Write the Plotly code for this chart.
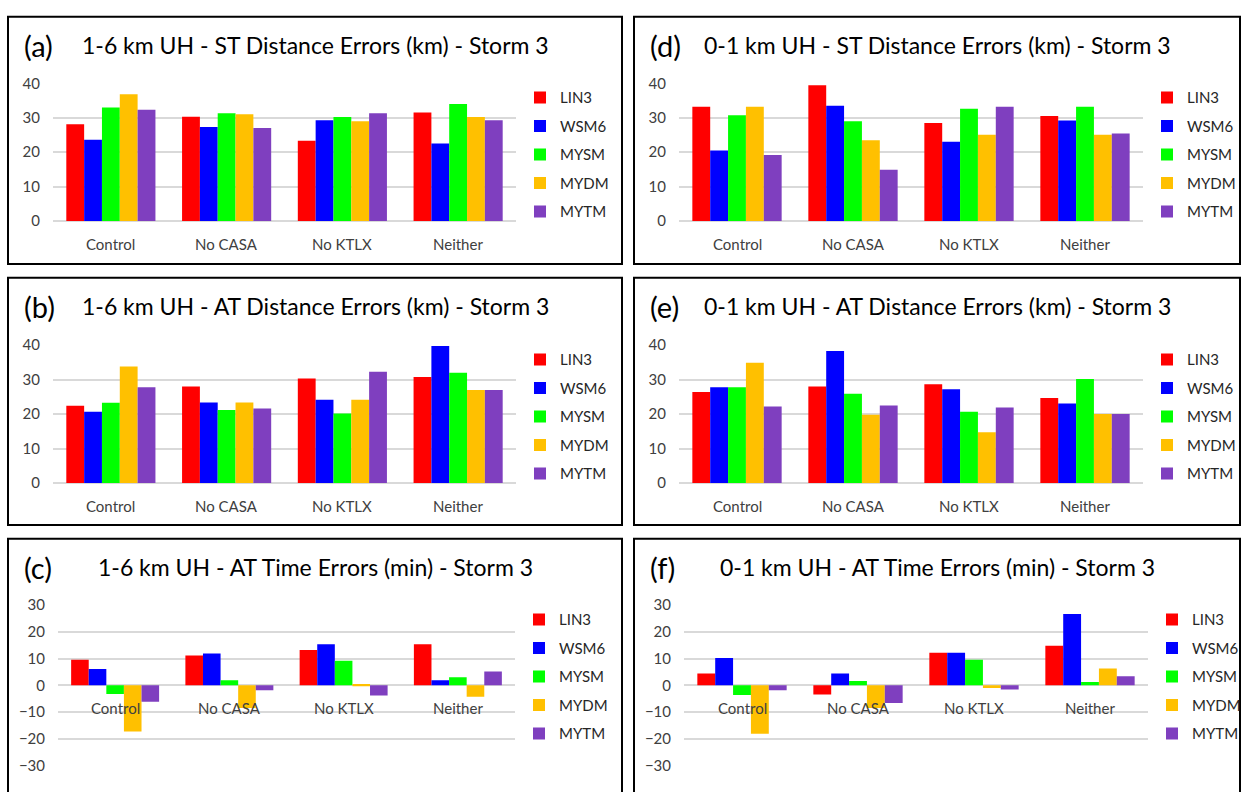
import plotly.graph_objects as go

W, H = 1246, 792

categories = ["Control", "No CASA", "No KTLX", "Neither"]
schemes = ["LIN3", "WSM6", "MYSM", "MYDM", "MYTM"]
colors = ["#FF0000", "#0000FF", "#00FF00", "#FFC000", "#7F3FBF"]

# Rows: LIN3, WSM6, MYSM, MYDM, MYTM; columns follow `categories`
st_dist_16 = [  # (a) 1-6 km UH, ST distance errors (km)
    [28.1, 30.3, 23.3, 31.5],
    [23.6, 27.3, 29.3, 22.5],
    [33.0, 31.3, 30.2, 34.0],
    [36.8, 31.0, 29.0, 30.2],
    [32.3, 27.0, 31.3, 29.3],
]
at_dist_16 = [  # (b) 1-6 km UH, AT distance errors (km)
    [22.4, 28.0, 30.3, 30.8],
    [20.7, 23.4, 24.2, 39.8],
    [23.3, 21.2, 20.2, 32.0],
    [33.8, 23.4, 24.2, 27.0],
    [27.8, 21.6, 32.3, 27.0],
]
at_time_16 = [  # (c) 1-6 km UH, AT time errors (min)
    [9.6, 11.2, 13.2, 15.4],
    [6.1, 11.9, 15.4, 1.9],
    [-3.3, 1.9, 9.2, 3.0],
    [-17.3, -8.5, 0.5, -4.3],
    [-6.2, -1.9, -3.8, 5.2],
]
st_dist_01 = [  # (d) 0-1 km UH, ST distance errors (km)
    [33.2, 39.4, 28.5, 30.5],
    [20.5, 33.5, 23.0, 29.2],
    [30.7, 29.0, 32.6, 33.2],
    [33.2, 23.5, 25.1, 25.1],
    [19.2, 14.9, 33.2, 25.4],
]
at_dist_01 = [  # (e) 0-1 km UH, AT distance errors (km)
    [26.4, 28.0, 28.7, 24.7],
    [27.8, 38.3, 27.2, 23.1],
    [27.8, 25.9, 20.7, 30.2],
    [34.9, 19.8, 14.7, 20.0],
    [22.2, 22.5, 21.9, 20.0],
]
at_time_01 = [  # (f) 0-1 km UH, AT time errors (min)
    [4.4, -3.4, 12.2, 14.8],
    [10.2, 4.4, 12.2, 26.7],
    [-3.6, 1.6, 9.6, 1.2],
    [-18.1, -8.5, -1.0, 6.3],
    [-1.9, -6.6, -1.6, 3.4],
]

dist_ticks = [0, 10, 20, 30, 40]
time_ticks = [-30, -20, -10, 0, 10, 20, 30]

# Panel layout in pixels: box = frame (x0, y0, x1, y1), plot = plotting area
panels = [
    dict(tag="(a)", title="1-6 km UH - ST Distance Errors (km) - Storm 3", data=st_dist_16,
         box=(8, 7, 622, 260), plot=(53, 75, 516, 216), yr=(0, 40), ticks=dist_ticks),
    dict(tag="(b)", title="1-6 km UH - AT Distance Errors (km) - Storm 3", data=at_dist_16,
         box=(8, 274, 622, 527), plot=(53, 343, 516, 484), yr=(0, 40), ticks=dist_ticks),
    dict(tag="(c)", title="1-6 km UH - AT Time Errors (min) - Storm 3", data=at_time_16,
         box=(8, 541, 622, 830), plot=(58, 609, 515, 773), yr=(-30, 30), ticks=time_ticks),
    dict(tag="(d)", title="0-1 km UH - ST Distance Errors (km) - Storm 3", data=st_dist_01,
         box=(634, 7, 1240, 260), plot=(679, 75, 1143, 216), yr=(0, 40), ticks=dist_ticks),
    dict(tag="(e)", title="0-1 km UH - AT Distance Errors (km) - Storm 3", data=at_dist_01,
         box=(634, 274, 1240, 527), plot=(679, 343, 1143, 484), yr=(0, 40), ticks=dist_ticks),
    dict(tag="(f)", title="0-1 km UH - AT Time Errors (min) - Storm 3", data=at_time_01,
         box=(634, 541, 1240, 830), plot=(684, 609, 1148, 773), yr=(-30, 30), ticks=time_ticks),
]

FONT = "Lato, 'Open Sans', sans-serif"
GRID = "#D9D9D9"


def fx(p):
    return p / W


def fy(p):
    return 1 - p / H


fig = go.Figure()
annotations = []
shapes = []
layout = {}

for i, p in enumerate(panels, start=1):
    sfx = "" if i == 1 else str(i)
    xa, ya, lg = f"x{sfx}", f"y{sfx}", f"legend{sfx}"
    px0, py0, px1, py1 = p["plot"]
    bx0, by0, bx1, by1 = p["box"]

    for name, color, vals in zip(schemes, colors, p["data"]):
        fig.add_trace(go.Bar(
            x=categories, y=vals, name=name, marker_color=color,
            marker_line_width=0, xaxis=xa, yaxis=ya, legend=lg,
            legendgroup=f"{i}-{name}",
        ))

    layout[f"xaxis{sfx}"] = dict(
        domain=[fx(px0), fx(px1)], anchor=ya, type="category",
        showticklabels=False, showgrid=False, zeroline=False, showline=False,
        fixedrange=True,
    )
    layout[f"yaxis{sfx}"] = dict(
        domain=[fy(py1), fy(py0)], anchor=xa, range=list(p["yr"]),
        tickvals=p["ticks"], showgrid=True, gridcolor=GRID, gridwidth=1.5,
        zeroline=True, zerolinecolor=GRID, zerolinewidth=1.5, showline=False,
        tickfont=dict(family=FONT, size=15, color="#404040"),
        ticklabelstandoff=12, fixedrange=True,
    )
    layout[lg] = dict(
        x=fx(px1 + 4), y=fy(py0 - 2), xanchor="left", yanchor="top",
        font=dict(family=FONT, size=15, color="#262626"),
        bgcolor="rgba(0,0,0,0)", tracegroupgap=6, itemclick=False,
    )

    # category labels sit just under the zero line
    for c in categories:
        annotations.append(dict(
            x=c, y=0, xref=xa, yref=ya, text=c, showarrow=False,
            yshift=-23, yanchor="middle",
            font=dict(family=FONT, size=15, color="#404040"),
        ))

    # panel tag and centred title
    annotations.append(dict(
        x=fx(bx0 + 14), y=fy(by0 + 29), xref="paper", yref="paper",
        text=p["tag"], showarrow=False, xanchor="left", yanchor="middle",
        font=dict(family=FONT, size=29, color="#000000"),
    ))
    annotations.append(dict(
        x=fx((bx0 + bx1) / 2), y=fy(by0 + 29), xref="paper", yref="paper",
        text=p["title"], showarrow=False, xanchor="center", yanchor="middle",
        font=dict(family=FONT, size=23, color="#000000"),
    ))

    shapes.append(dict(
        type="rect", xref="paper", yref="paper",
        x0=fx(bx0), x1=fx(bx1), y0=fy(by1), y1=fy(by0),
        line=dict(color="#000000", width=2), fillcolor="rgba(0,0,0,0)",
        layer="above",
    ))

fig.update_layout(
    width=W, height=H, margin=dict(l=0, r=0, t=0, b=0),
    paper_bgcolor="white", plot_bgcolor="white",
    barmode="group", bargap=0.23, bargroupgap=0,
    annotations=annotations, shapes=shapes,
    showlegend=True, font=dict(family=FONT),
    **layout,
)

fig.write_html("out.html", config=dict(displayModeBar=False))
